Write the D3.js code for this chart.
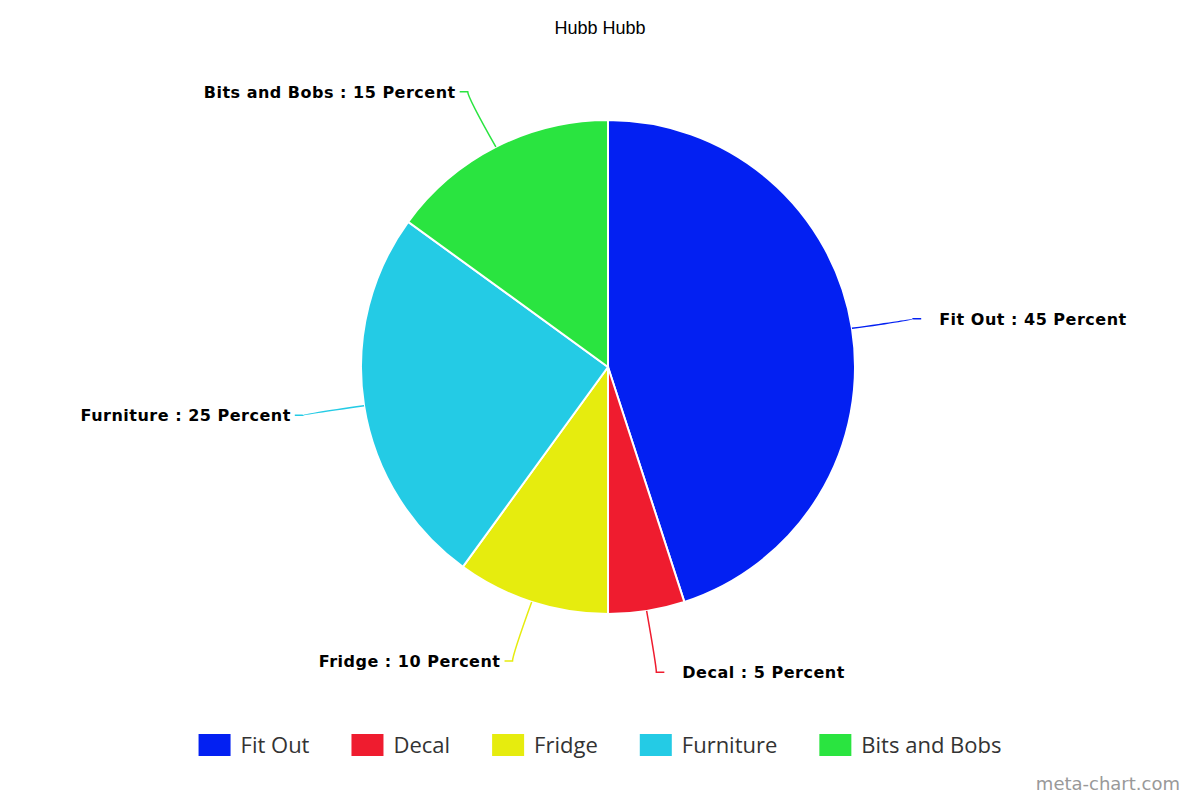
<!DOCTYPE html>
<html><head><meta charset="utf-8">
<script src="https://cdn.jsdelivr.net/npm/d3@7"></script>
<style>body{margin:0;background:#fff}</style></head>
<body><svg id="c" width="1200" height="800"></svg>
<script>
const categories = ["Fit Out", "Decal", "Fridge", "Furniture", "Bits and Bobs"];
const values = [45, 5, 10, 25, 15];
const colors = ["#0320f2", "#ef1c2f", "#e6ec0e", "#24cbe5", "#2ae440"];
const title = "Hubb Hubb";

const svg = d3.select("#c");
const cx = 608, cy = 367, r = 247;
svg.append("text").attr("x", 600).attr("y", 34).attr("text-anchor", "middle")
  .style("font", "18px 'Liberation Sans', Arial").text(title);

const data = categories.map((c, i) => ({ c, v: values[i], col: colors[i] }));
const arcs = d3.pie().value(d => d.v).sort(null)(data);
const g = svg.append("g").attr("transform", `translate(${cx},${cy})`);
g.selectAll("path").data(arcs).join("path")
  .attr("d", d3.arc().innerRadius(0).outerRadius(r))
  .attr("fill", d => d.data.col).attr("stroke", "#fff").attr("stroke-width", 2);

arcs.forEach(a => {
  const m = (a.startAngle + a.endAngle) / 2;
  const p = k => [Math.sin(m) * k, -Math.cos(m) * k];
  const [x1, y1] = p(r), [x2, y2] = p(r + 62);
  const right = Math.sin(m) >= 0;
  const x3 = x2 + (right ? 8 : -8);
  g.append("path").attr("d", `M${x1},${y1} Q${x2},${(y1 + y2) / 2 + (y2 - y1) * 0.4} ${x2},${y2} L${x3},${y2}`)
    .attr("fill", "none").attr("stroke", a.data.col).attr("stroke-width", 1.5);
  g.append("text").attr("x", x3 + (right ? 18 : -4)).attr("y", y2 + 6)
    .attr("text-anchor", right ? "start" : "end")
    .style("font", "bold 16px 'DejaVu Sans', Verdana").style("letter-spacing", "0.5px")
    .text(`${a.data.c} : ${a.data.v} Percent`);
});

const leg = svg.append("g");
let x = 0;
data.forEach(d => {
  const it = leg.append("g").attr("transform", `translate(${x},0)`);
  it.append("rect").attr("width", 32).attr("height", 22).attr("y", -11).attr("fill", d.col);
  const t = it.append("text").attr("x", 42).attr("y", 8).attr("fill", "#333")
    .style("font", "22px 'Open Sans', sans-serif").text(d.c);
  x += 42 + t.node().getComputedTextLength() + 42;
});
x -= 42;
leg.attr("transform", `translate(${600 - x / 2},745)`);

svg.append("text").attr("x", 1180).attr("y", 790).attr("text-anchor", "end").attr("fill", "#999")
  .style("font", "18px 'DejaVu Sans', sans-serif").text("meta-chart.com");
</script></body></html>
